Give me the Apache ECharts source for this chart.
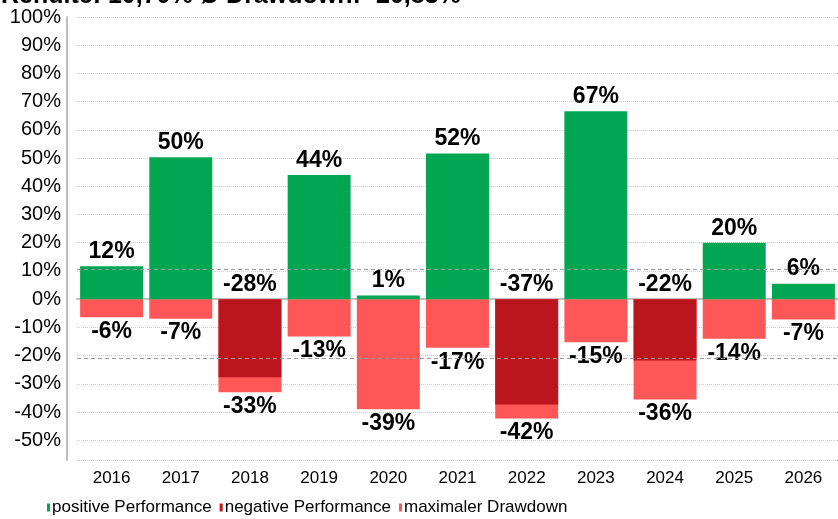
<!DOCTYPE html>
<html>
<head>
<meta charset="utf-8">
<script src="https://cdn.jsdelivr.net/npm/echarts@6/dist/echarts.min.js"></script>
<style>
html,body{margin:0;padding:0;background:#fff;}
#c{width:838px;height:519px;}
</style>
</head>
<body>
<div id="c"></div>
<script>
const years = ['2016','2017','2018','2019','2020','2021','2022','2023','2024','2025','2026'];
const positivePerf = [11.7, 50.3, null, 44.0, 1.3, 51.6, null, 66.6, null, 20.0, 5.5];
const negativePerf = [null, null, -27.7, null, null, null, -37.3, null, -21.7, null, null];
const maxDrawdown = [-6.4, -6.9, -33.0, -13.2, -39.0, -17.2, -42.3, -15.3, -35.6, -14.0, -7.2];
const avgReturn = 10.70;
const avgDrawdown = -20.83;
const seriesNames = ['positive Performance', 'negative Performance', 'maximaler Drawdown'];
const titleText = 'Rendite: 10,70% Ø Drawdown: -20,83%';

const sans = "'Liberation Sans', Arial, sans-serif";
const pct = p => (p.value == null ? '' : Math.round(p.value) + '%');
const labelStyle = {fontFamily: sans, fontWeight: 'bold', fontSize: 23, color: '#000', formatter: pct, distance: 3};

const chart = echarts.init(document.getElementById('c'), null, {renderer: 'canvas'});
chart.setOption({
  animation: false,
  backgroundColor: '#fff',
  title: {
    text: titleText, left: -4, top: -21,
    textStyle: {fontFamily: sans, fontWeight: 'bold', fontSize: 25, color: '#000'}
  },
  legend: {
    data: seriesNames, left: 42, bottom: -2, icon: 'rect', itemWidth: 3, itemHeight: 8, itemGap: 8,
    textStyle: {fontFamily: sans, fontSize: 17, color: '#000', padding: [0,0,0,-3]}
  },
  grid: {left: 77, right: -2, top: 17, bottom: 59, containLabel: false},
  xAxis: {
    type: 'category', data: years, boundaryGap: true,
    axisLine: {lineStyle: {color: '#bfbfbf', width: 2}},
    axisTick: {show: true, alignWithLabel: true, length: 4, lineStyle: {color: '#bfbfbf'}},
    axisLabel: {fontFamily: sans, fontSize: 17, color: '#000', margin: 10}
  },
  yAxis: {
    type: 'value', min: -57, max: 100, splitNumber: 15, offset: 10,
    axisLine: {show: true, lineStyle: {color: '#bfbfbf', width: 2}},
    axisTick: {show: false},
    axisLabel: {fontFamily: sans, fontSize: 20, color: '#000', margin: 6, showMinLabel: false,
      formatter: v => v + '%'},
    splitLine: {show: true, lineStyle: {color: '#d0d0d0', type: 'dotted', width: 1}}
  },
  series: [
    {
      name: seriesNames[2], type: 'bar', data: maxDrawdown, barGap: '-100%', barCategoryGap: '9%',
      itemStyle: {color: '#ff5757'},
      label: Object.assign({show: true, position: 'bottom'}, labelStyle),
      markLine: {
        silent: true, symbol: 'none', label: {show: false},
        lineStyle: {color: '#9a9a9a', type: [4, 3], width: 1},
        data: [{yAxis: avgReturn}, {yAxis: avgDrawdown}]
      }
    },
    {
      name: seriesNames[1], type: 'bar', data: negativePerf, barGap: '-100%', barCategoryGap: '9%',
      itemStyle: {color: '#bb151d'},
      label: Object.assign({show: true, position: 'top'}, labelStyle)
    },
    {
      name: seriesNames[0], type: 'bar', data: positivePerf, barGap: '-100%', barCategoryGap: '9%',
      itemStyle: {color: '#00a651'},
      label: Object.assign({show: true, position: 'top'}, labelStyle)
    }
  ]
});
</script>
</body>
</html>
